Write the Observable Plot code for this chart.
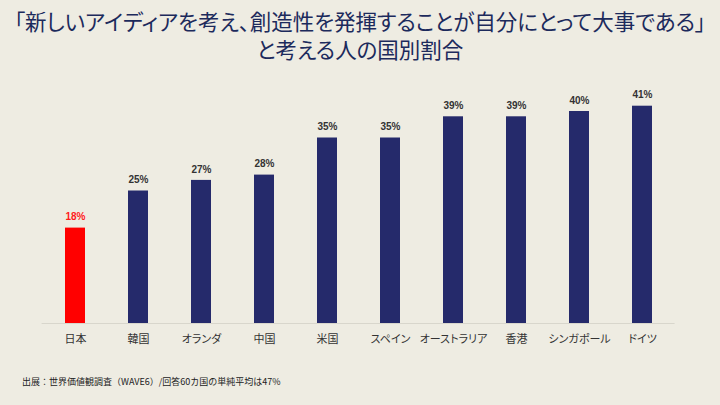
<!DOCTYPE html>
<html><head><meta charset="utf-8">
<script src="https://cdn.jsdelivr.net/npm/d3@7"></script>
<script src="https://cdn.jsdelivr.net/npm/@observablehq/plot@0.6"></script>
<style>
html,body{margin:0;padding:0;background:#eeece2;width:720px;height:405px;overflow:hidden;font-family:"Noto Sans CJK JP",sans-serif;}
#title{position:absolute;left:0;top:7px;width:720px;text-align:center;color:#1c2a5c;font-size:21.5px;line-height:28px;font-weight:400;font-feature-settings:"palt";white-space:nowrap;}
#chart{position:absolute;left:0;top:66px;}
#caption{position:absolute;left:22px;top:375px;font-size:9px;color:#222;}
</style></head>
<body>
<div id="title">「新しいアイディアを考え、創造性を発揮することが自分にとって大事である」<br>と考える人の国別割合</div>
<div id="chart"></div>
<div id="caption">出展：世界価値観調査（WAVE6）/回答60カ国の単純平均は47%</div>
<script>
const countries = ["日本","韓国","オランダ","中国","米国","スペイン","オーストラリア","香港","シンガポール","ドイツ"];
const values = [18,25,27,28,35,35,39,39,40,41];
const highlight = "日本";

const data = countries.map((c,i)=>({country:c, value:values[i]}));
const barColor = d => d.country === highlight ? "#ff0000" : "#252a6b";
const labelColor = d => d.country === highlight ? "#ff1a1a" : "#333333";

const chart = Plot.plot({
  width:720, height:295,
  marginLeft:41.6, marginRight:45.4, marginTop:18.5, marginBottom:38,
  style:{background:"transparent", fontFamily:"'Noto Sans CJK JP', sans-serif"},
  x:{domain:countries, paddingInner:0.684, paddingOuter:0.342, label:null},
  y:{domain:[0,45], axis:null},
  marks:[
    Plot.ruleY([0],{stroke:"#d8d6cc", strokeWidth:1}),
    Plot.barY(data,{x:"country", y:"value", fill:barColor, inset:0}),
    Plot.text(data,{x:"country", y:"value", text:d=>d.value+"%", dy:-11, fill:labelColor, fontWeight:"bold", fontSize:10, fontFamily:"'Liberation Sans', Arial, sans-serif"}),
    Plot.axisX({tickSize:0, tickPadding:12, fontSize:11, color:"#333", label:null})
  ]
});
chart.querySelectorAll("g[aria-label='x-axis tick label'] text").forEach(t=>{t.style.fontFeatureSettings='"palt"';});
document.getElementById("chart").appendChild(chart);
</script>
</body></html>
